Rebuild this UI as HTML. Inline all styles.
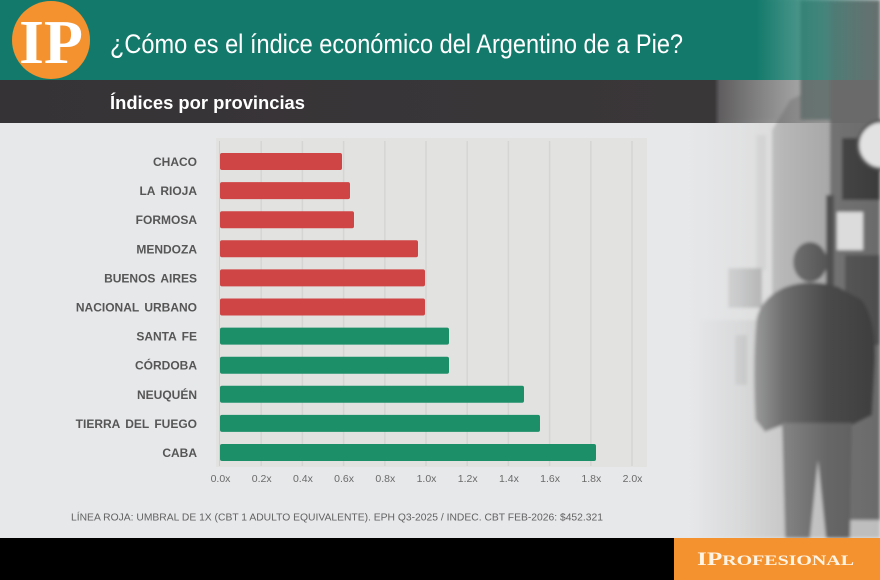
<!DOCTYPE html>
<html><head><meta charset="utf-8"><style>
html,body{margin:0;padding:0;width:880px;height:580px;overflow:hidden;background:#e7e8ea}
svg{display:block}
</style></head><body>
<svg width="880" height="580" viewBox="0 0 880 580" xmlns="http://www.w3.org/2000/svg">
<defs>
<linearGradient id="tealFade" x1="0" x2="1" y1="0" y2="0">
<stop offset="0" stop-color="#137a6b" stop-opacity="1"/>
<stop offset="0.86" stop-color="#137a6b" stop-opacity="1"/>
<stop offset="0.93" stop-color="#2f8a7d" stop-opacity="0.7"/>
<stop offset="1" stop-color="#4f8a82" stop-opacity="0.15"/>
</linearGradient>
<linearGradient id="darkFade" x1="0" x2="880" y1="0" y2="0" gradientUnits="userSpaceOnUse">
<stop offset="0" stop-color="#363336" stop-opacity="1"/>
<stop offset="0.812" stop-color="#3a3739" stop-opacity="1"/>
<stop offset="0.818" stop-color="#5a5859" stop-opacity="0.95"/>
<stop offset="0.92" stop-color="#6a6a6a" stop-opacity="0.35"/>
<stop offset="1" stop-color="#6a6a6a" stop-opacity="0"/>
</linearGradient>
<linearGradient id="bodyFade" x1="0" x2="880" y1="0" y2="0" gradientUnits="userSpaceOnUse">
<stop offset="0" stop-color="#e7e8ea" stop-opacity="1"/>
<stop offset="0.78" stop-color="#e7e8ea" stop-opacity="1"/>
<stop offset="0.84" stop-color="#e5e6e7" stop-opacity="0.7"/>
<stop offset="0.89" stop-color="#e3e3e3" stop-opacity="0.3"/>
<stop offset="0.94" stop-color="#e0e0e0" stop-opacity="0.08"/>
<stop offset="1" stop-color="#e0e0e0" stop-opacity="0"/>
</linearGradient>
<filter id="blur" x="-10%" y="-10%" width="120%" height="120%"><feGaussianBlur stdDeviation="1.5"/></filter>
</defs>

<rect x="0" y="0" width="880" height="580" fill="#e7e8ea"/>

<!-- photo (approximation) -->
<g filter="url(#blur)">
<rect x="640" y="0" width="240" height="538" fill="#cdcdcd"/>
<rect x="700" y="120" width="80" height="200" fill="#d8d8d8"/>
<rect x="700" y="320" width="180" height="218" fill="#bdbdbd"/>
<polygon points="772,130 790,100 830,80 830,340 772,330" fill="#a4a4a4"/>
<rect x="800" y="0" width="80" height="120" fill="#667874"/>
<rect x="830" y="0" width="50" height="520" fill="#6a6a6a"/>
<rect x="756" y="135" width="10" height="135" fill="#c4c4c4"/>
<rect x="842" y="138" width="38" height="62" fill="#3b3b3b"/>
<circle cx="882" cy="145" r="24" fill="#e2e2e2" stroke="#555" stroke-width="3"/>
<rect x="826" y="195" width="8" height="150" fill="#444"/>
<rect x="837" y="212" width="26" height="38" fill="#dcdcdc"/>
<rect x="845" y="255" width="35" height="90" fill="#4e4e4e"/>
<rect x="728" y="268" width="34" height="40" fill="#888"/>
<rect x="735" y="335" width="12" height="50" fill="#959595"/>
<!-- person -->
<ellipse cx="810" cy="262" rx="17" ry="20" fill="#4a4a4a"/>
<path d="M785 287 Q810 278 838 287 L862 300 Q876 320 875 360 L872 415 L852 425 L783 425 L765 432 L755 420 Q752 360 756 320 Q760 298 785 287 Z" fill="#3e3e3e"/>
<path d="M782 423 L852 423 L850 538 L826 538 L818 460 L810 538 L785 538 Z" fill="#5c5c5c"/>
</g>

<rect x="0" y="123" width="880" height="415" fill="url(#bodyFade)"/>

<rect x="0" y="0" width="880" height="80" fill="url(#tealFade)"/>
<rect x="0" y="80" width="880" height="43" fill="url(#darkFade)"/>

<!-- logo -->
<circle cx="51" cy="40" r="39" fill="#f4922f"/>
<text x="19" y="63" font-family="Liberation Serif, serif" font-weight="bold" font-size="62" fill="#ffffff" textLength="64" lengthAdjust="spacingAndGlyphs">IP</text>

<text x="110" y="53" font-family="Liberation Sans, sans-serif" font-size="27" fill="#ffffff" textLength="573" lengthAdjust="spacingAndGlyphs">¿Cómo es el índice económico del Argentino de a Pie?</text>
<text x="110" y="109" font-family="Liberation Sans, sans-serif" font-weight="bold" font-size="18" fill="#ffffff" textLength="195" lengthAdjust="spacingAndGlyphs">Índices por provincias</text>

<!-- chart panel -->
<rect x="216" y="138" width="431" height="329" fill="#e2e2e0"/>
<g stroke="#d5d5d3" stroke-width="1.5">
<line x1="261.2" y1="141" x2="261.2" y2="466"/>
<line x1="302.4" y1="141" x2="302.4" y2="466"/>
<line x1="343.6" y1="141" x2="343.6" y2="466"/>
<line x1="384.8" y1="141" x2="384.8" y2="466"/>
<line x1="426" y1="141" x2="426" y2="466"/>
<line x1="467.2" y1="141" x2="467.2" y2="466"/>
<line x1="508.4" y1="141" x2="508.4" y2="466"/>
<line x1="549.6" y1="141" x2="549.6" y2="466"/>
<line x1="590.8" y1="141" x2="590.8" y2="466"/>
<line x1="632" y1="141" x2="632" y2="466"/>
</g>
<line x1="219.5" y1="141" x2="219.5" y2="466" stroke="#cfcfcd" stroke-width="1"/>

<g>
<rect x="220" y="153" width="122" height="17" rx="2" fill="#cf4444"/>
<rect x="220" y="182.1" width="130" height="17" rx="2" fill="#cf4444"/>
<rect x="220" y="211.2" width="134" height="17" rx="2" fill="#cf4444"/>
<rect x="220" y="240.3" width="198" height="17" rx="2" fill="#cf4444"/>
<rect x="220" y="269.4" width="205" height="17" rx="2" fill="#cf4444"/>
<rect x="220" y="298.5" width="205" height="17" rx="2" fill="#cf4444"/>
<rect x="220" y="327.6" width="229" height="17" rx="2" fill="#1d8f68"/>
<rect x="220" y="356.7" width="229" height="17" rx="2" fill="#1d8f68"/>
<rect x="220" y="385.8" width="304" height="17" rx="2" fill="#1d8f68"/>
<rect x="220" y="414.9" width="320" height="17" rx="2" fill="#1d8f68"/>
<rect x="220" y="444" width="376" height="17" rx="2" fill="#1d8f68"/>
</g>

<g font-family="Liberation Sans, sans-serif" font-weight="bold" font-size="12" fill="#565656" text-anchor="end" word-spacing="2">
<text x="197" y="166">CHACO</text>
<text x="197" y="195.1">LA RIOJA</text>
<text x="197" y="224.2">FORMOSA</text>
<text x="197" y="253.3">MENDOZA</text>
<text x="197" y="282.4">BUENOS AIRES</text>
<text x="197" y="311.5">NACIONAL URBANO</text>
<text x="197" y="340.6">SANTA FE</text>
<text x="197" y="369.7">CÓRDOBA</text>
<text x="197" y="398.8">NEUQUÉN</text>
<text x="197" y="427.9">TIERRA DEL FUEGO</text>
<text x="197" y="457">CABA</text>
</g>

<g font-family="Liberation Sans, sans-serif" font-size="10.5" fill="#6a6a6a" text-anchor="middle">
<text x="220.5" y="482">0.0x</text>
<text x="261.7" y="482">0.2x</text>
<text x="302.9" y="482">0.4x</text>
<text x="344.1" y="482">0.6x</text>
<text x="385.3" y="482">0.8x</text>
<text x="426.5" y="482">1.0x</text>
<text x="467.7" y="482">1.2x</text>
<text x="508.9" y="482">1.4x</text>
<text x="550.1" y="482">1.6x</text>
<text x="591.3" y="482">1.8x</text>
<text x="632.5" y="482">2.0x</text>
</g>

<text x="71" y="520.5" font-family="Liberation Sans, sans-serif" font-size="10.5" fill="#616161" textLength="532" lengthAdjust="spacingAndGlyphs">LÍNEA ROJA: UMBRAL DE 1X (CBT 1 ADULTO EQUIVALENTE). EPH Q3-2025 / INDEC. CBT FEB-2026: $452.321</text>

<rect x="0" y="538" width="880" height="42" fill="#000000"/>
<rect x="674" y="538" width="206" height="42" fill="#f4922f"/>
<text x="697" y="565" font-family="Liberation Serif, serif" font-weight="bold" fill="#fff4e4" textLength="157" lengthAdjust="spacingAndGlyphs"><tspan font-size="19">IP</tspan><tspan font-size="15">ROFESIONAL</tspan></text>
</svg>
</body></html>
